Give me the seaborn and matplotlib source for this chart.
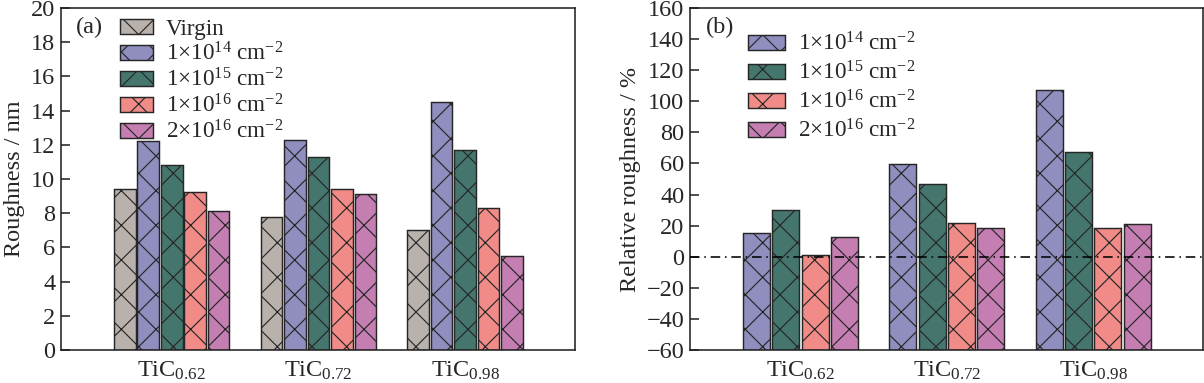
import numpy as np
import pandas as pd
import matplotlib
matplotlib.use("Agg")
import matplotlib.pyplot as plt
from matplotlib.patches import Patch
import seaborn as sns

# ---------------- data ----------------
samples = ["TiC$_{\\mathregular{0.62}}$", "TiC$_{\\mathregular{0.72}}$", "TiC$_{\\mathregular{0.98}}$"]
doses_a = ["Virgin", "1×10$^{\\mathregular{14}}$ cm$^{\\mathregular{-2}}$",
           "1×10$^{\\mathregular{15}}$ cm$^{\\mathregular{-2}}$",
           "1×10$^{\\mathregular{16}}$ cm$^{\\mathregular{-2}}$",
           "2×10$^{\\mathregular{16}}$ cm$^{\\mathregular{-2}}$"]
doses_b = doses_a[1:]

rough_virgin = [9.4, 7.75, 7.0]
rough_1e14 = [12.2, 12.3, 14.5]
rough_1e15 = [10.8, 11.3, 11.7]
rough_1e16 = [9.25, 9.4, 8.3]
rough_2e16 = [8.13, 9.15, 5.5]

rel_1e14 = [15.2, 59.6, 107.5]
rel_1e15 = [30.0, 46.7, 67.3]
rel_1e16 = [1.2, 21.9, 18.3]
rel_2e16 = [12.9, 18.4, 21.3]

rel_baseline = -60  # bars in panel (b) rise from the bottom of the axis

colors = ["#b9b1ac", "#8f8ebf", "#45766e", "#f08b88", "#c47eb2"]

# ---------------- style ----------------
sns.set_theme(style="ticks")
plt.rcParams["font.family"] = ["Liberation Serif", "DejaVu Serif"]
plt.rcParams["mathtext.fontset"] = "custom"
plt.rcParams["mathtext.rm"] = "Liberation Serif"
plt.rcParams["mathtext.it"] = "Liberation Serif:italic"
plt.rcParams["mathtext.bf"] = "Liberation Serif:bold"
plt.rcParams["hatch.linewidth"] = 0.4
plt.rcParams["axes.linewidth"] = 0.55
plt.rcParams["axes.unicode_minus"] = True

DPI = 208
fig = plt.figure(figsize=(1204 / DPI, 383 / DPI), dpi=DPI)
axa = fig.add_axes([61 / 1204, 1 - 350 / 383, 514 / 1204, 342 / 383])
axb = fig.add_axes([690 / 1204, 1 - 350 / 383, 513 / 1204, 342 / 383])

FS = 8.4

df_a = pd.DataFrame({
    "sample": samples * 5,
    "dose": sum([[d] * 3 for d in doses_a], []),
    "value": rough_virgin + rough_1e14 + rough_1e15 + rough_1e16 + rough_2e16,
})
df_b = pd.DataFrame({
    "sample": samples * 4,
    "dose": sum([[d] * 3 for d in doses_b], []),
    "value": rel_1e14 + rel_1e15 + rel_1e16 + rel_2e16,
})

HATCH = "xx"
EDGE = "#262626"

def draw(ax, df, hue_order, pal):
    sns.barplot(data=df, x="sample", y="value", hue="dose", hue_order=hue_order,
                order=samples, palette=pal, width=0.8, gap=0.08, ax=ax,
                edgecolor=EDGE, linewidth=0.5, saturation=1, legend=False,
                err_kws={"linewidth": 0})
    for p in ax.patches:
        p.set_hatch(HATCH)
        p.set_edgecolor(EDGE)
    ax.set_xlim(-0.755, 2.75)
    ax.set_xlabel("")
    ax.tick_params(axis="y", direction="in", length=3.0, width=0.55, labelsize=FS, pad=2)
    ax.tick_params(axis="x", length=0, labelsize=FS, pad=3.5)
    for s in ax.spines.values():
        s.set_visible(True)
        s.set_linewidth(0.55)
        s.set_color("#222222")
    handles = [Patch(facecolor=c, edgecolor=EDGE, hatch=HATCH, linewidth=0.5, label=l)
               for c, l in zip(pal, hue_order)]
    return handles

ha = draw(axa, df_a, doses_a, colors)
axa.set_ylim(0, 20)
axa.set_yticks(np.arange(0, 21, 2))
axa.set_ylabel("Roughness / nm", fontsize=FS, labelpad=2)
axa.text(0.028, 0.942, "(a)", transform=axa.transAxes, fontsize=FS, va="center", ha="left")
axa.legend(handles=ha, loc="upper left", bbox_to_anchor=(0.105, 0.982), frameon=False,
           fontsize=8.0, handlelength=1.45, handleheight=0.6, labelspacing=0.12,
           handletextpad=0.55, borderpad=0.2, borderaxespad=0)

hb = draw(axb, df_b, doses_b, colors[1:])
for p in axb.patches:
    h = p.get_y() + p.get_height()
    p.set_y(rel_baseline)
    p.set_height(h - rel_baseline)
axb.set_ylim(-60, 160)
axb.set_yticks(np.arange(-60, 161, 20))
axb.axhline(0, color="black", lw=0.55, ls=(0, (6, 3, 1, 3)), zorder=5)
axb.set_ylabel("Relative roughness / %", fontsize=FS, labelpad=2)
axb.text(0.03, 0.944, "(b)", transform=axb.transAxes, fontsize=FS, va="center", ha="left")
axb.legend(handles=hb, loc="upper left", bbox_to_anchor=(0.105, 0.942), frameon=False,
           fontsize=8.0, handlelength=1.6, handleheight=0.65, labelspacing=0.25,
           handletextpad=0.55, borderpad=0.2, borderaxespad=0)

fig.savefig("out.png", dpi=DPI)
